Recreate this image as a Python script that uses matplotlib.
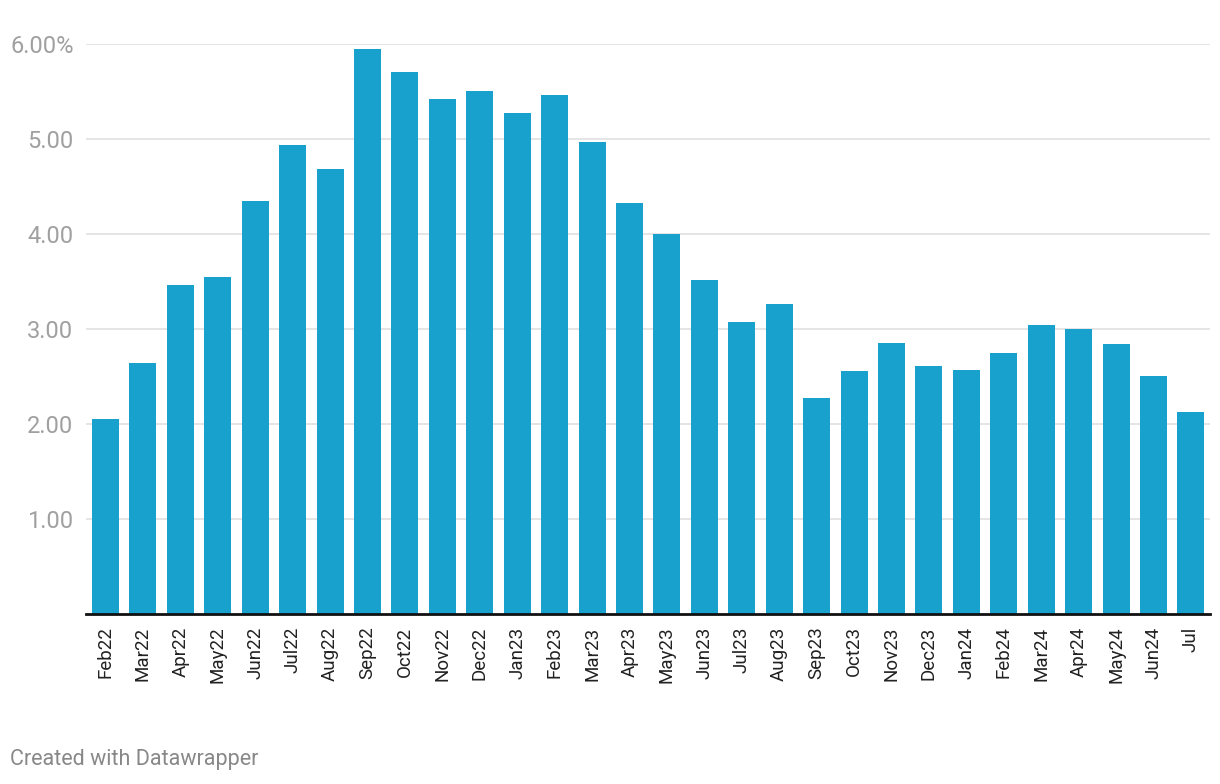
import numpy as np
import matplotlib.pyplot as plt

plt.rcParams['font.family'] = ['Roboto', 'DejaVu Sans']

months = ["Feb22", "Mar22", "Apr22", "May22", "Jun22", "Jul22", "Aug22", "Sep22",
          "Oct22", "Nov22", "Dec22", "Jan23", "Feb23", "Mar23", "Apr23", "May23",
          "Jun23", "Jul23", "Aug23", "Sep23", "Oct23", "Nov23", "Dec23", "Jan24",
          "Feb24", "Mar24", "Apr24", "May24", "Jun24", "Jul"]
rates = [2.05, 2.64, 3.46, 3.55, 4.35, 4.94, 4.68, 5.95,
         5.71, 5.42, 5.51, 5.27, 5.46, 4.97, 4.33, 4.00,
         3.52, 3.07, 3.26, 2.27, 2.56, 2.85, 2.61, 2.57,
         2.75, 3.04, 3.00, 2.84, 2.51, 2.13]
y_ticks = [1, 2, 3, 4, 5, 6]
y_labels = ["1.00", "2.00", "3.00", "4.00", "5.00", "6.00%"]

W, H = 1220, 784
fig = plt.figure(figsize=(W / 100, H / 100), dpi=100)
ax = fig.add_axes([86 / W, 1 - 614 / H, (1210 - 86) / W, (614 - 44) / H])

x = np.arange(len(months))
ax.bar(x, rates, width=0.72, color="#18a1cd", zorder=2)

ax.set_xlim(-0.52, len(months) - 1 + 0.51)
ax.set_ylim(0, 6)

ax.set_yticks(y_ticks)
ax.set_yticklabels(y_labels, fontsize=17, color="#a0a0a0")
ax.tick_params(axis='y', length=0, pad=9)
ax.yaxis.grid(True, color="#e3e3e3", linewidth=1.3, zorder=0)
ax.set_axisbelow(True)

ax.set_xticks(x)
ax.set_xticklabels(months, rotation=90, fontsize=13.5, color="#222222")
ax.tick_params(axis='x', length=0, pad=9)

for s in ["top", "right", "left"]:
    ax.spines[s].set_visible(False)
ax.spines["bottom"].set_linewidth(2)
ax.spines["bottom"].set_color("#111111")
ax.spines["bottom"].set_zorder(3)

fig.text(10 / W, 1 - 759 / H, "Created with Datawrapper", fontsize=15.5,
         color="#888888", ha="left", va="center")

fig.savefig("out.png", dpi=100)
